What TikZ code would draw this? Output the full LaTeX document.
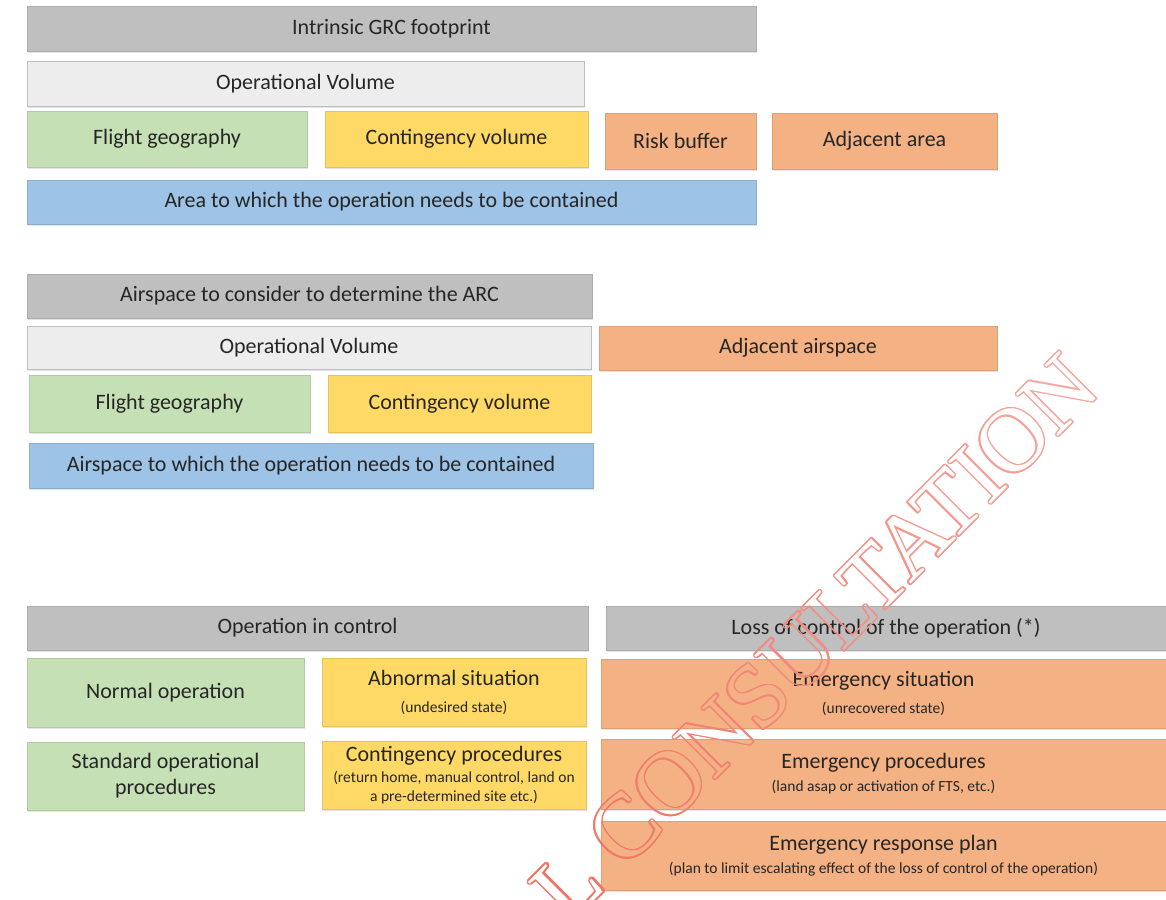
\documentclass[tikz,border=0pt]{standalone}
\usepackage{fontspec}
\setmainfont{Carlito}
\newfontfamily\wmfont{Liberation Serif}
\usetikzlibrary{shadows,fadings}
\definecolor{cgray}{HTML}{BFBFBF}
\definecolor{clight}{HTML}{EDEDED}
\definecolor{cgreen}{HTML}{C5E0B4}
\definecolor{cyellow}{HTML}{FFD966}
\definecolor{corange}{HTML}{F4B183}
\definecolor{cblue}{HTML}{9DC3E6}
\definecolor{txt}{HTML}{262626}
\definecolor{wmred}{HTML}{EF6452}
\definecolor{wmpink}{HTML}{F6B0AA}
\newcommand\sm{\fontsize{15.5}{18}\selectfont}
\newcommand\wmtext{L CONSULTATION}
\tikzset{
  box/.style={inner sep=0pt, fill=#1, draw=#1!90!black, line width=0.5pt,
    text=txt, align=center, font=\fontsize{22}{26}\selectfont,
    drop shadow={fill=blue!30!gray, opacity=0.18, shadow xshift=0.6pt, shadow yshift=-2pt}},
  ovbox/.style={box=clight, draw=black!25},
  wmnode/.style={rotate=45, inner sep=0pt, font=\wmfont\fontsize{91}{91}\selectfont}
}
% box from (x1,y1) to (x2,y2), pixel coordinates from the top-left corner
\newcommand\bx[7]{\node[#6, minimum width={#4-#2}, minimum height={#5-#3}] (#1) at ({(#2+#4)/2},{(#3+#5)/2}) {#7};}
\begin{tikzfadingfrompicture}[name=wmfade]
  \foreach \a in {0,22.5,...,337.5}
    \node[wmnode, text=transparent!0] at (\a:1.5pt) {\wmtext};
  \node[wmnode, text=transparent!100] at (0,0) {\wmtext};
\end{tikzfadingfrompicture}
\begin{document}
\begin{tikzpicture}[x=1pt,y=-1pt]
\useasboundingbox (0,0) rectangle (1166,899);
% ---- section 1: ground risk ----
\bx{grc}{27}{6}{756}{51}{box=cgray}{Intrinsic GRC footprint}
\bx{ov1}{27}{61}{584}{106}{ovbox}{Operational Volume}
\bx{fg1}{27}{111}{307}{167}{box=cgreen}{Flight geography}
\bx{cv1}{325}{111}{588}{167}{box=cyellow}{Contingency volume}
\bx{rb}{605}{113}{756}{169}{box=corange}{Risk buffer}
\bx{aa}{772}{113}{997}{169}{box=corange}{Adjacent area}
\bx{area}{27}{180}{756}{224}{box=cblue}{Area to which the operation needs to be contained}
% ---- section 2: air risk ----
\bx{arc}{27}{274}{592}{318}{box=cgray}{Airspace to consider to determine the ARC}
\bx{ov2}{27}{326}{591}{369}{ovbox}{Operational Volume}
\bx{aas}{599}{326}{997}{370}{box=corange}{Adjacent airspace}
\bx{fg2}{29}{375}{310}{432}{box=cgreen}{Flight geography}
\bx{cv2}{328}{375}{591}{432}{box=cyellow}{Contingency volume}
\bx{airsp}{29}{443}{593}{488}{box=cblue}{Airspace to which the operation needs to be contained}
% ---- section 3: control ----
\bx{inctl}{27}{606}{588}{650}{box=cgray}{Operation in control}
\bx{loss}{606}{606}{1166}{650}{box=cgray}{Loss of control of the operation (*)}
\bx{normal}{27}{658}{304}{727}{box=cgreen}{Normal operation}
\bx{abn}{322}{658}{586}{726}{box=cyellow}{Abnormal situation\\[1pt]{\sm (undesired state)}}
\bx{emsit}{601}{659}{1166}{728}{box=corange}{Emergency situation\\[1pt]{\sm (unrecovered state)}}
\bx{sop}{27}{742}{304}{810}{box=cgreen}{Standard operational\\procedures}
\bx{cproc}{322}{741}{586}{809}{box=cyellow}{Contingency procedures\\[-5pt]{\sm (return home, manual control, land on}\\[-7pt]{\sm a pre-determined site etc.)}}
\bx{emproc}{601}{739}{1166}{809}{box=corange}{Emergency procedures\\[-3pt]{\sm (land asap or activation of FTS, etc.)}}
\bx{erp}{601}{821}{1166}{890}{box=corange}{Emergency response plan\\[-3pt]{\sm (plan to limit escalating effect of the loss of control of the operation)}}
% ---- watermark (outlined letters) ----
\coordinate (wmc) at (815,638);
\shade[top color=wmpink, bottom color=wmred, shading angle=-45,
  path fading=wmfade, fit fading=false, fading transform={shift={(wmc)}}]
  (0,0) rectangle (1166,899);
\end{tikzpicture}
\end{document}
